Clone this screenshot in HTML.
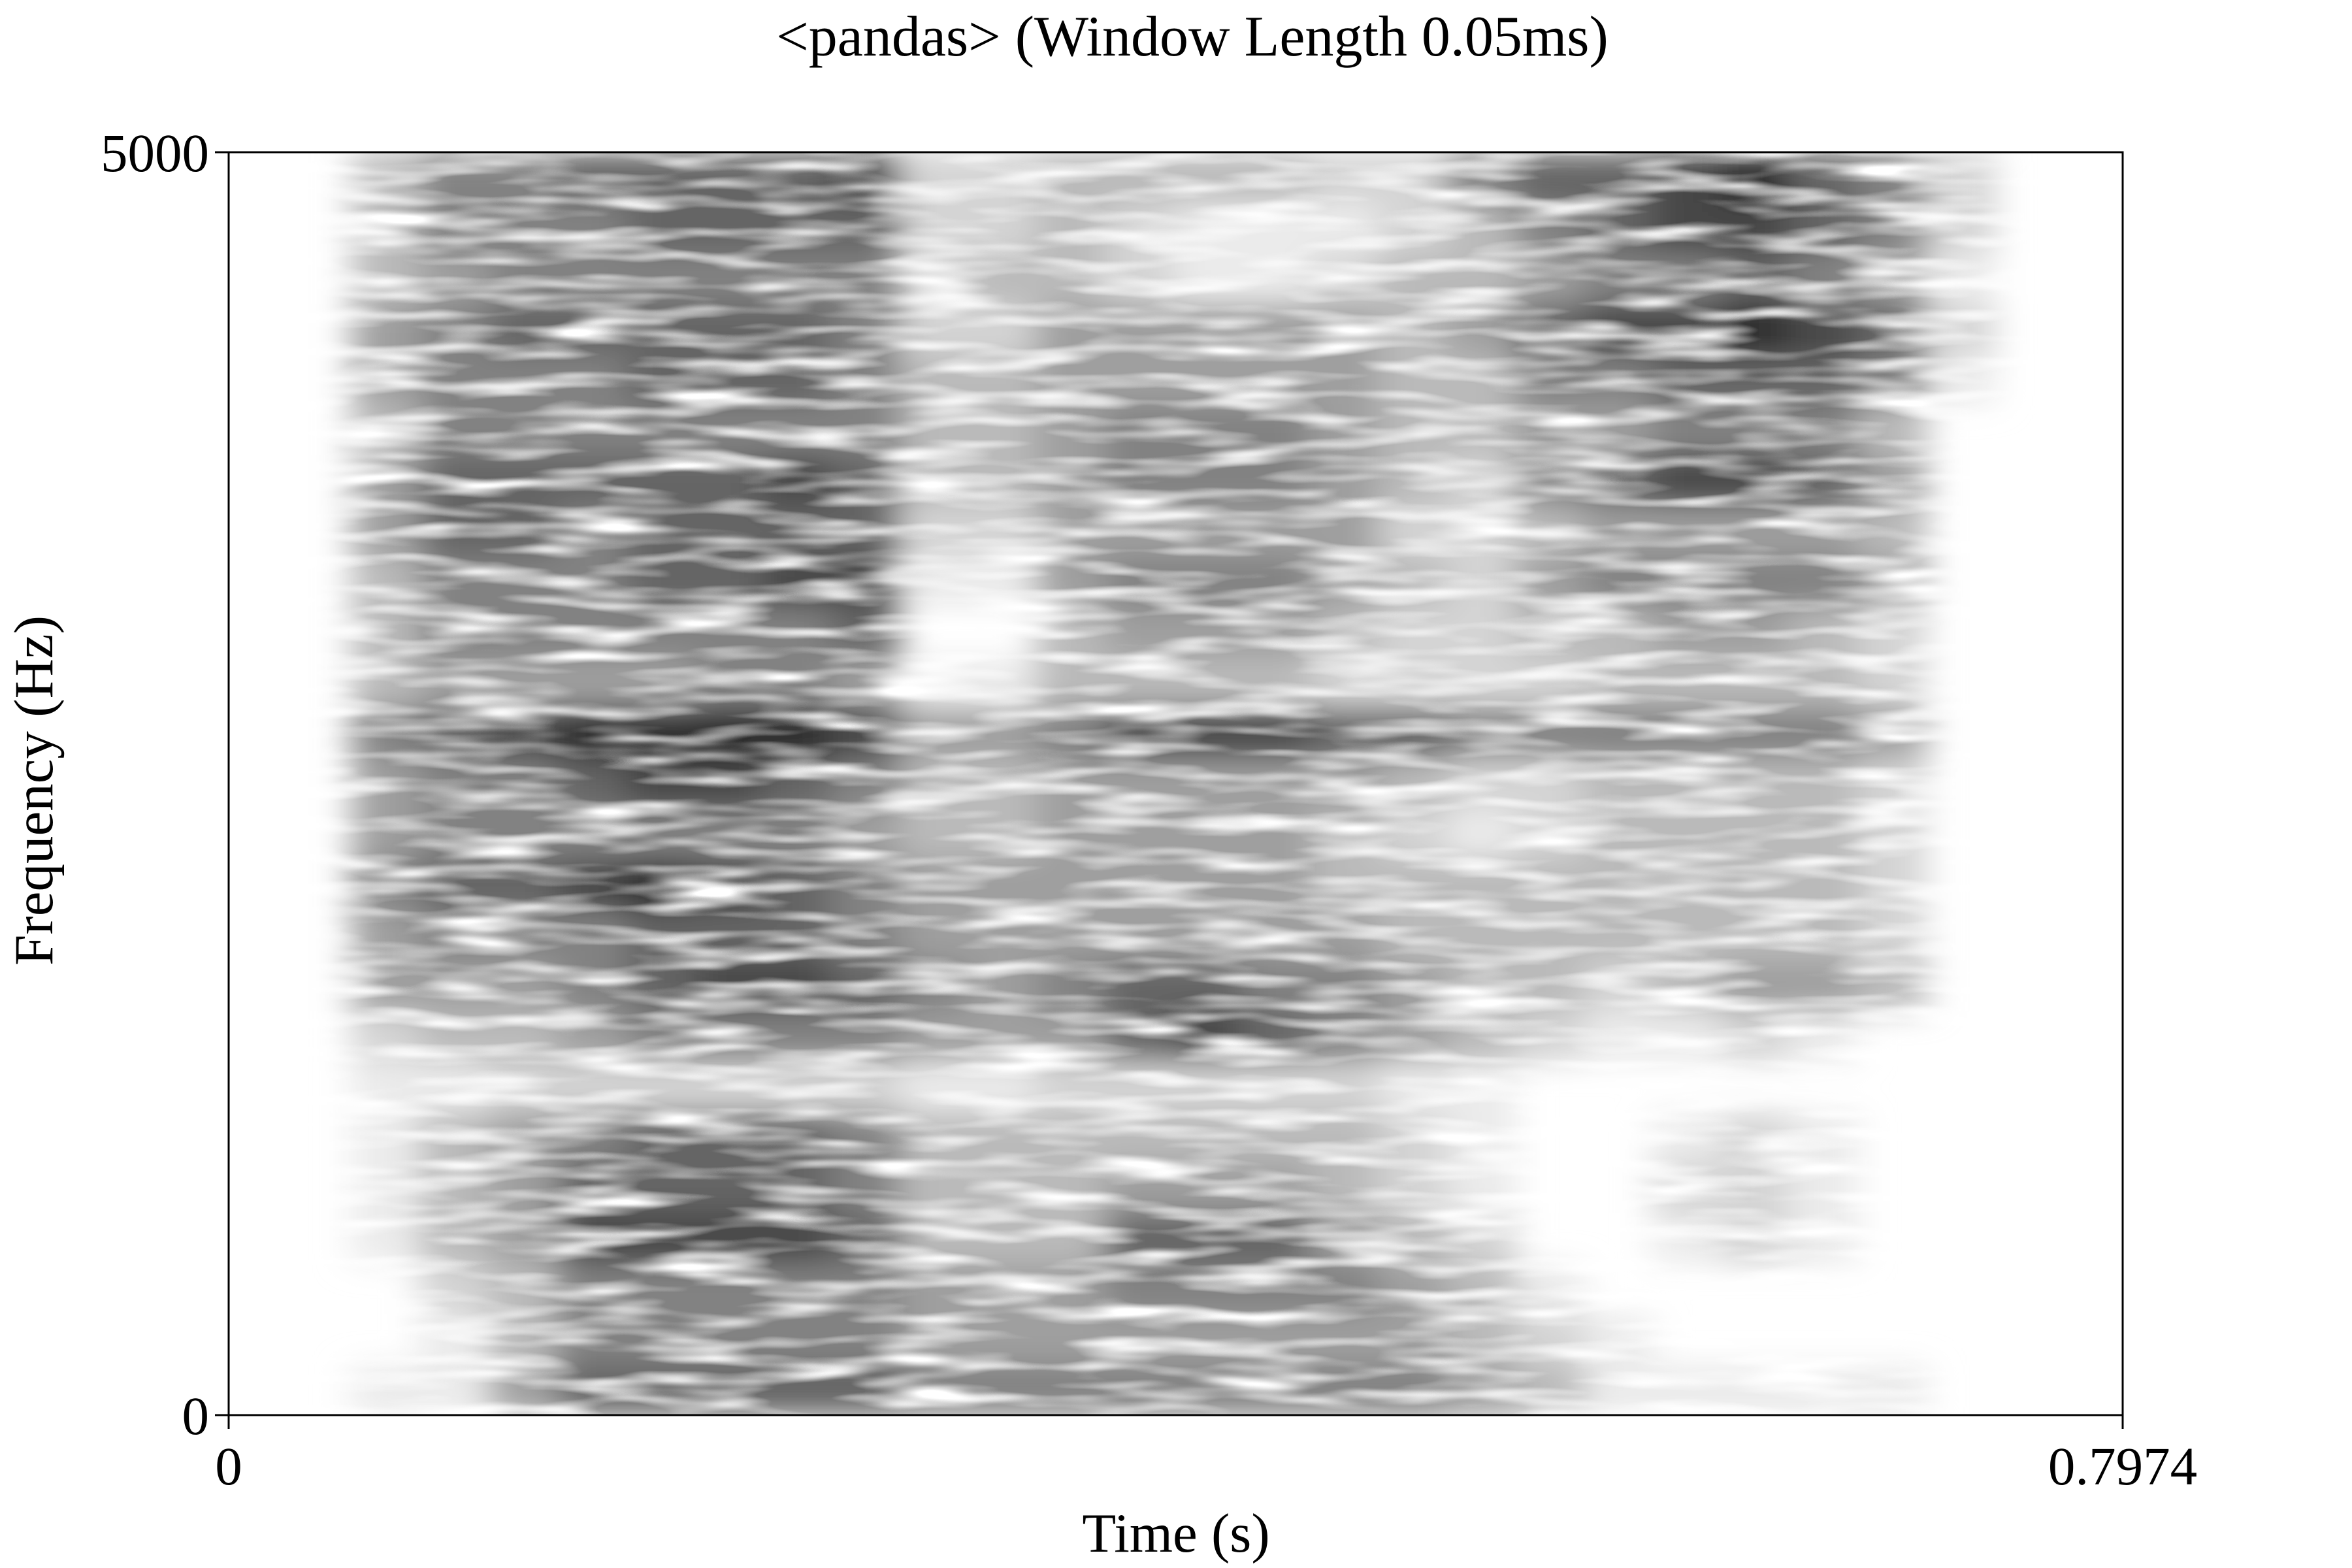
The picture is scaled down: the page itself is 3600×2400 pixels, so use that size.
<!DOCTYPE html>
<html><head><meta charset="utf-8"><style>
html,body{margin:0;padding:0;background:#fff;}
svg{display:block;}
text{font-family:"Liberation Serif",serif;fill:#000;}
</style></head><body>
<svg id="chart" width="3600" height="2400" viewBox="0 0 3600 2400" xmlns="http://www.w3.org/2000/svg">
<defs>
<filter id="blur" x="-10%" y="-10%" width="120%" height="120%"><feGaussianBlur stdDeviation="28 22"/></filter>
<filter id="noise" x="0" y="0" width="100%" height="100%">
<feTurbulence type="fractalNoise" baseFrequency="0.006 0.04" numOctaves="2" seed="7" result="n"/>
<feColorMatrix in="n" type="matrix" values="0 0 0 0 1  0 0 0 0 1  0 0 0 0 1  2.6 0 0 0 -1.1"/>
</filter>
<clipPath id="plotclip"><rect x="351" y="234" width="2897" height="1931"/></clipPath>
</defs>
<text x="1825" y="85" font-size="88" text-anchor="middle">&lt;pandas&gt; (Window Length 0.05ms)</text>
<g id="cells" clip-path="url(#plotclip)"><g id="cellsInner" filter="url(#blur)"></g></g>
<rect x="351" y="234" width="2897" height="1931" filter="url(#noise)" clip-path="url(#plotclip)"/>
<rect x="350" y="233" width="2899" height="1933" fill="none" stroke="#000" stroke-width="3"/>
<g id="axes"></g>
<text x="1800" y="2375" font-size="85" text-anchor="middle">Time (s)</text>
<text transform="translate(80,1210) rotate(-90)" font-size="85" text-anchor="middle">Frequency (Hz)</text>
</svg>
<script>
const xTickValues = [0, 0.7974];
const xTickLabels = ["0", "0.7974"];
const yTickValues = [0, 5000];
const yTickLabels = ["0", "5000"];
const frameStart = 0.052;
const frameStep = 0.0288;
const binStep = 200;
// intensity 0-9, rows from 5000 Hz (top) down to 0 Hz, 24 time frames each
const row24 = [3,5,5,6,6,6,6,7,2,2,3,3,3,3,2,2,5,6,6,7,8,6,5,2];
const row23 = [3,5,5,5,6,6,6,6,2,2,3,2,1,1,1,2,3,5,6,7,7,6,5,2];
const row22 = [3,4,5,5,5,5,5,5,2,3,3,2,1,1,2,3,3,4,5,5,6,5,4,1];
const row21 = [4,5,6,6,6,6,6,5,2,2,4,4,4,4,4,3,4,6,7,7,8,7,6,2];
const row20 = [4,5,5,5,6,6,6,5,3,3,4,4,4,4,4,3,3,5,5,6,6,6,5,1];
const row19 = [3,5,5,5,5,5,5,5,3,3,4,5,5,5,4,3,3,4,4,5,5,5,3,0];
const row18 = [4,6,6,6,6,6,7,6,3,3,4,5,5,5,4,3,2,5,6,7,7,6,4,0];
const row17 = [4,6,6,5,6,6,6,6,2,2,4,4,4,4,4,2,2,3,4,4,4,4,3,0];
const row16 = [3,5,5,5,6,6,7,7,1,1,4,5,5,5,4,3,2,4,5,5,5,5,4,0];
const row15 = [3,5,5,5,5,5,5,6,0,0,3,4,4,4,3,2,2,3,3,4,4,3,2,0];
const row14 = [3,4,4,4,4,5,5,4,1,1,3,3,3,3,2,2,2,2,3,3,3,3,2,0];
const row13 = [5,6,7,8,8,8,8,7,4,4,5,7,7,7,6,6,5,5,5,5,5,5,4,0];
const row12 = [4,5,5,6,7,7,6,5,3,3,4,4,4,4,4,3,2,2,3,3,3,3,2,0];
const row11 = [4,5,5,5,5,5,5,4,3,3,4,4,4,4,3,2,1,2,3,3,3,3,2,0];
const row10 = [5,6,6,7,8,7,6,5,4,4,4,4,4,4,3,3,3,3,3,3,3,3,2,0];
const row9  = [4,5,5,5,6,6,6,5,4,4,4,4,4,4,4,3,3,3,3,3,3,3,2,0];
const row8  = [4,4,4,5,6,7,7,6,5,4,5,6,6,5,5,4,3,3,2,3,4,4,3,0];
const row7  = [2,3,3,4,5,5,5,5,4,4,4,6,7,6,5,4,3,2,1,1,2,1,0,0];
const row6  = [1,1,2,2,2,2,2,2,1,1,2,2,2,2,2,1,1,0,0,0,0,0,0,0];
const row5  = [1,3,4,5,6,6,6,5,3,3,3,3,3,3,3,2,1,0,0,1,2,1,0,0];
const row4  = [1,3,4,6,6,6,6,5,3,3,3,4,4,4,3,2,1,0,0,2,2,1,0,0];
const row3  = [1,3,4,7,7,7,7,6,3,3,3,6,6,6,4,3,2,0,0,1,2,1,0,0];
const row2  = [0,2,3,5,5,5,5,5,4,4,4,5,5,5,5,4,3,1,0,0,0,0,0,0];
const row1  = [0,1,3,5,5,5,5,5,4,4,4,4,4,4,4,4,3,2,1,0,0,0,0,0];
const row0  = [1,1,4,6,6,6,6,6,5,5,5,5,5,5,5,5,4,3,1,1,1,1,1,0];
const rowsTopDown = [row24,row23,row22,row21,row20,row19,row18,row17,row16,row15,row14,row13,row12,row11,row10,row9,row8,row7,row6,row5,row4,row3,row2,row1,row0];

const X0=350, X1=3249, Y0=2166, Y1=233, TMAX=0.7974, FMAX=5000;
function xScale(t){return X0+(t/TMAX)*(X1-X0);}
function yScale(f){return Y0-(f/FMAX)*(Y0-Y1);}
const NS="http://www.w3.org/2000/svg";
const inner=document.getElementById('cellsInner');
const nRows=rowsTopDown.length;
rowsTopDown.forEach((row,ri)=>{
  const bin=nRows-1-ri;
  const fLo=bin*binStep, fHi=fLo+binStep;
  row.forEach((v,ci)=>{
    if(v<=0) return;
    const t0=frameStart+ci*frameStep, t1=t0+frameStep;
    const r=document.createElementNS(NS,'rect');
    
    
    r.setAttribute('x',xScale(t0));
    r.setAttribute('y',yScale(fHi));
    r.setAttribute('width',xScale(t1)-xScale(t0)+1);
    r.setAttribute('height',yScale(fLo)-yScale(fHi)+1);
    const g=Math.round(255*(1-Math.pow(Math.min(1,v/8.5),1.15)*0.9));
    r.setAttribute('fill','rgb('+g+','+g+','+g+')');
    inner.appendChild(r);
  });
});
const axes=document.getElementById('axes');
xTickValues.forEach((v,i)=>{
  const x=xScale(v);
  const l=document.createElementNS(NS,'line');
  
  
  l.setAttribute('x1',x);l.setAttribute('x2',x);l.setAttribute('y1',Y0);l.setAttribute('y2',Y0+21);
  l.setAttribute('stroke','#000');l.setAttribute('stroke-width','3');
  axes.appendChild(l);
  const t=document.createElementNS(NS,'text');
  
  
  t.setAttribute('x',x);t.setAttribute('y',2272);t.setAttribute('font-size','83');t.setAttribute('text-anchor','middle');
  t.textContent=xTickLabels[i];
  axes.appendChild(t);
});
yTickValues.forEach((v,i)=>{
  const y=yScale(v);
  const l=document.createElementNS(NS,'line');
  
  
  l.setAttribute('x1',X0-21);l.setAttribute('x2',X0);l.setAttribute('y1',y);l.setAttribute('y2',y);
  l.setAttribute('stroke','#000');l.setAttribute('stroke-width','3');
  axes.appendChild(l);
  const t=document.createElementNS(NS,'text');
  
  
  t.setAttribute('x',320);t.setAttribute('y',y+29);t.setAttribute('font-size','83');t.setAttribute('text-anchor','end');
  t.textContent=yTickLabels[i];
  axes.appendChild(t);
});
</script>
</body></html>
